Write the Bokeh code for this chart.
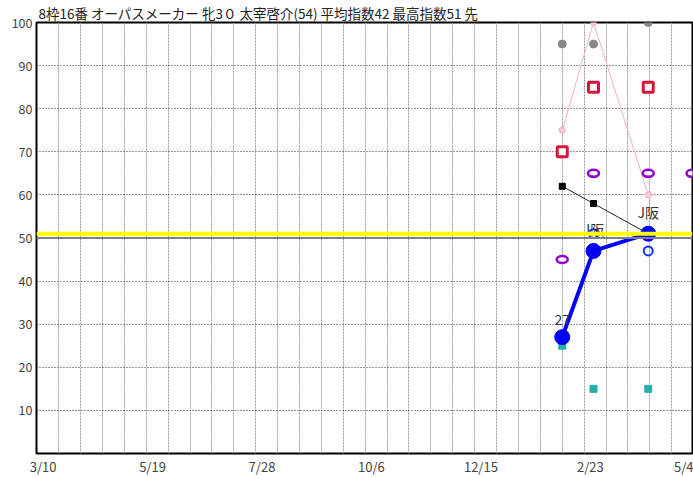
import math
from bokeh.plotting import figure
from bokeh.models import FixedTicker, Span
from bokeh.core.properties import value
from bokeh.embed import file_html
from bokeh.resources import INLINE

FONT = "Noto Sans CJK JP"
title = "8枠16番 オーパスメーカー 牝3０ 太宰啓介(54) 平均指数42 最高指数51 先"

# x axis: days counted from 3/10
tick_days = [0, 70, 140, 210, 280, 350, 410]
tick_labels = ["3/10", "5/19", "7/28", "10/6", "12/15", "2/23", "5/4"]
grid_days = list(range(10, 420, 14))
y_ticks = [10, 20, 30, 40, 50, 60, 70, 80, 90, 100]

# races (x positions in days)
race_days = [332, 352, 387]
next_day = 415
nan = float("nan")

gray_vals = [95, 95, 100]
pink_vals = [75, 100, 60]
crimson_vals = [70, 85, 85]
purple_vals = [45, 65, 65]
purple_next = [65]
black_vals = [62, 58, 51]
blue_vals = [27, 47, 51]
blue_open_vals = [nan, 51, 47]
teal_vals = [25, 15, 15]
race_labels = ["27", "J阪", "J阪"]

max_index = 51
base_line = 50

p = figure(width=693, height=478, output_backend="svg", toolbar_location=None,
           x_range=(-4.2, 415.3), y_range=(0, 100),
           min_border_left=36, min_border_right=1, min_border_bottom=23, min_border_top=0)

p.title.text = title
p.title.text_font = FONT
p.title.text_font_size = "13.5px"
p.title.text_font_style = "normal"
p.title.text_color = "#222222"
p.title.text_line_height = 1.0
p.title.align = "left"
p.title.offset = 2
p.title.standoff = 0

p.outline_line_color = "black"
p.outline_line_width = 2
p.outline_line_alpha = 1

# axes
p.xaxis.ticker = FixedTicker(ticks=tick_days)
p.xaxis.major_label_overrides = {d: l for d, l in zip(tick_days, tick_labels)}
p.yaxis.ticker = FixedTicker(ticks=y_ticks)
for ax in (p.xaxis[0], p.yaxis[0]):
    ax.axis_line_color = None
    ax.major_tick_line_color = None
    ax.minor_tick_line_color = None
    ax.major_tick_out = 0
    ax.major_tick_in = 0
    ax.minor_tick_out = 0
    ax.minor_tick_in = 0
    ax.major_label_text_font = FONT
    ax.major_label_text_color = "#444444"
p.xaxis.major_label_text_font_size = "13px"
p.yaxis.major_label_text_font_size = "12.5px"
p.xaxis.major_label_standoff = 3
p.yaxis.major_label_standoff = 4

p.xgrid.ticker = FixedTicker(ticks=grid_days)
p.xgrid.grid_line_color = "#9a9a9a"
p.xgrid.grid_line_dash = "2 1"
p.xgrid.grid_line_width = 1
p.ygrid.ticker = FixedTicker(ticks=[10, 20, 30, 40, 60, 70, 80, 90])
p.ygrid.grid_line_color = "#333333"
p.ygrid.grid_line_dash = "1 2"
p.ygrid.grid_line_width = 1

p.add_layout(Span(location=base_line, dimension="width", line_color="#808080", line_width=2))
p.add_layout(Span(location=max_index, dimension="width", line_color="#ffff00", line_width=4))

# series
p.scatter(race_days, gray_vals, marker="circle", size=8, fill_color="#888888", line_color="#888888")
p.line(race_days, pink_vals, line_color="#f5b0bd", line_width=1)
p.scatter(race_days, pink_vals, marker="circle", size=6, fill_color="#fbd0d8", line_color="#f4a6b4")
p.scatter(race_days, crimson_vals, marker="square", size=10, fill_color="white",
          line_color="#dc143c", line_width=3)
p.ellipse(race_days, purple_vals, width=11, height=7, width_units="screen", height_units="screen",
          fill_color="white", line_color="#9400d3", line_width=2.5)
p.ellipse([next_day], purple_next, width=11, height=7, width_units="screen", height_units="screen",
          fill_color="white", line_color="#9400d3", line_width=2.5)
p.line(race_days, black_vals, line_color="#222222", line_width=1)
p.scatter(race_days[:2], black_vals[:2], marker="square", size=6, fill_color="black", line_color="black")
p.scatter(race_days, teal_vals, marker="square", size=7, fill_color="#20b2aa", line_color="#20b2aa")
p.scatter(race_days, blue_open_vals, marker="circle", size=9, fill_color=None,
          line_color="#1030ff", line_width=2)
p.line(race_days, blue_vals, line_color="#0000ff", line_width=4)
p.scatter(race_days, blue_vals, marker="circle", size=15, fill_color="#0000ff", line_color="#0000ff")
p.text(race_days, blue_vals, text=race_labels, text_align="center", text_baseline="bottom",
       y_offset=-12, text_font=value(FONT), text_font_size="14px", text_color="#333333")

open("out.html", "w").write(file_html(p, INLINE))
